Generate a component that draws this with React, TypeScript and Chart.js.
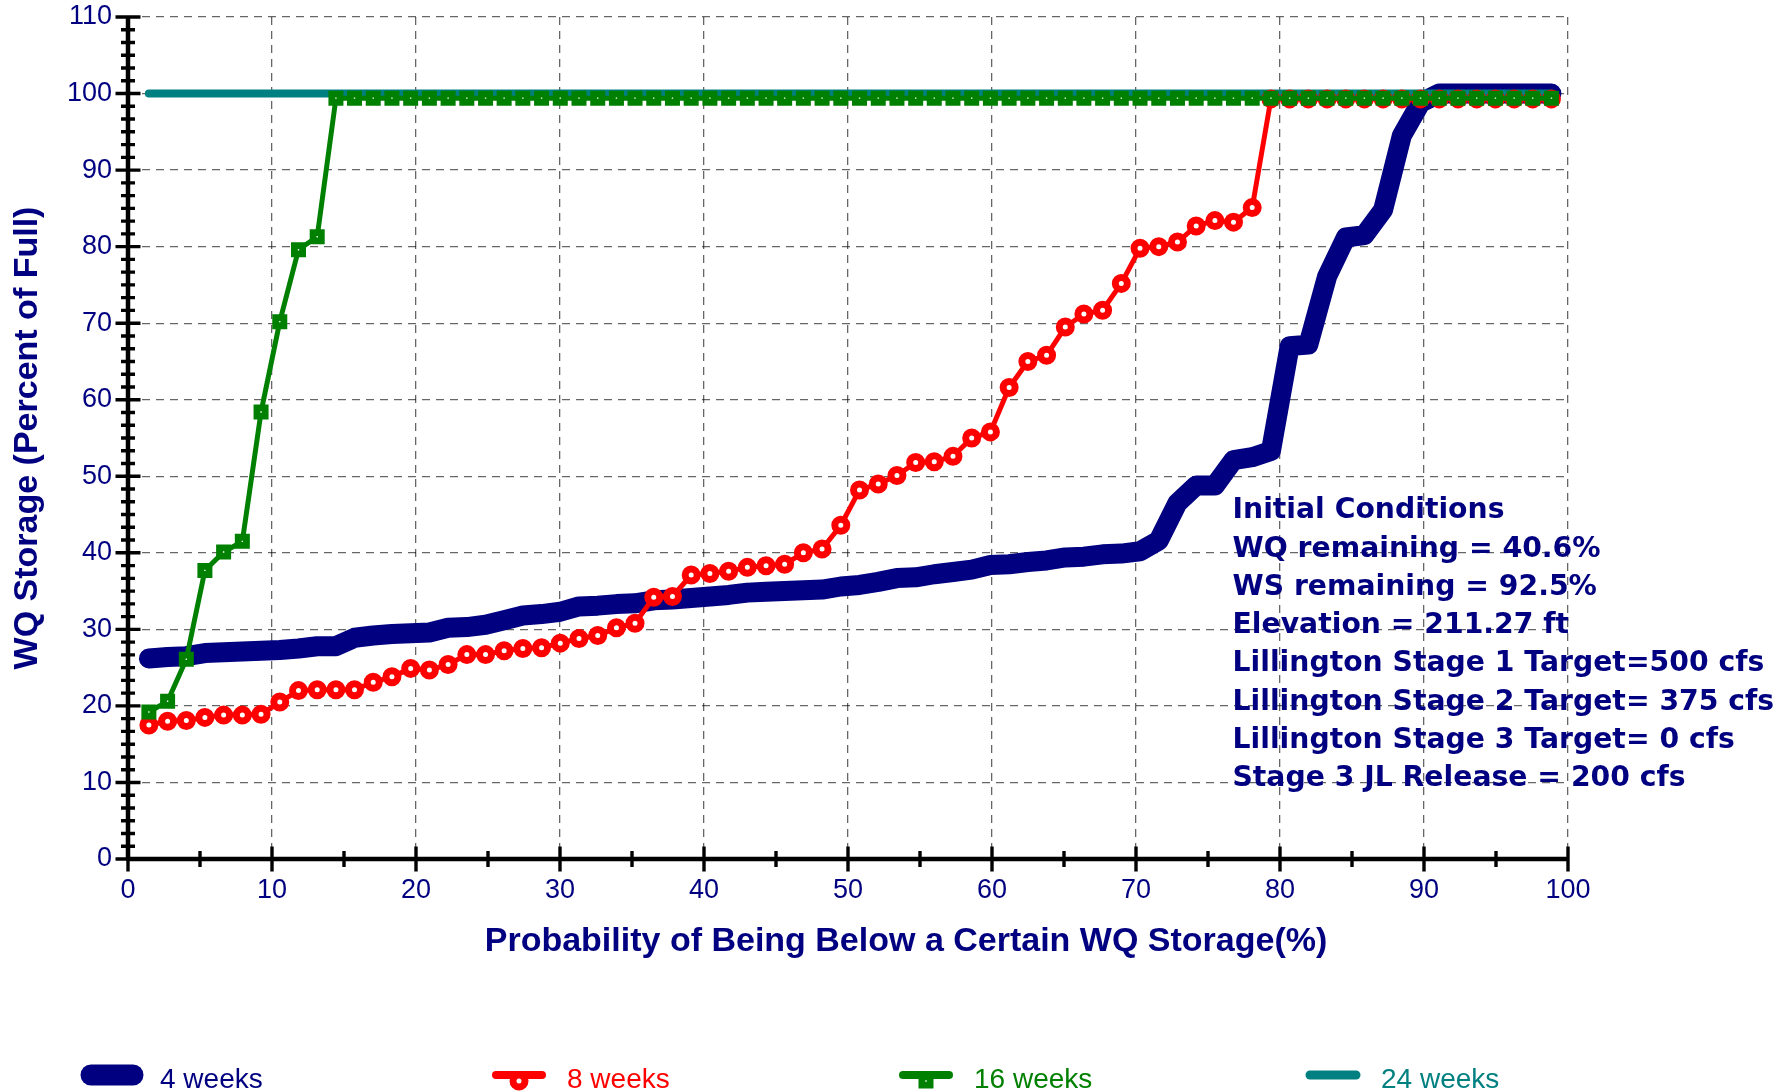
import React, { useEffect, useRef } from "react";
import { Chart, registerables } from "chart.js";

Chart.register(...registerables);

// Probability of being below (plotting positions, %)
const PROB = [
  1.45, 2.75, 4.05, 5.34, 6.64, 7.94, 9.24, 10.54, 11.84, 13.14,
  14.44, 15.73, 17.03, 18.33, 19.63, 20.93, 22.23, 23.53, 24.83, 26.12,
  27.42, 28.72, 30.02, 31.32, 32.62, 33.92, 35.21, 36.51, 37.81, 39.11,
  40.41, 41.71, 43.01, 44.31, 45.6, 46.9, 48.2, 49.5, 50.8, 52.1,
  53.4, 54.7, 55.99, 57.29, 58.59, 59.89, 61.19, 62.49, 63.79, 65.09,
  66.38, 67.68, 68.98, 70.28, 71.58, 72.88, 74.18, 75.48, 76.77, 78.07,
  79.37, 80.67, 81.97, 83.27, 84.57, 85.86, 87.16, 88.46, 89.76, 91.06,
  92.36, 93.66, 94.96, 96.26, 97.55, 98.85,
];

const WEEKS_4 = [
  26.2, 26.4, 26.5, 26.9, 27.0, 27.1, 27.2, 27.3, 27.5, 27.8,
  27.8, 28.9, 29.2, 29.4, 29.5, 29.6, 30.2, 30.3, 30.6, 31.2,
  31.8, 32.0, 32.3, 33.0, 33.1, 33.3, 33.4, 33.8, 33.9, 34.1,
  34.3, 34.5, 34.8, 34.9, 35.0, 35.1, 35.2, 35.6, 35.8, 36.2,
  36.7, 36.8, 37.2, 37.5, 37.8, 38.4, 38.5, 38.8, 39.0, 39.4,
  39.5, 39.8, 39.9, 40.2, 41.6, 46.5, 48.8, 48.8, 52.1, 52.5,
  53.3, 67.0, 67.2, 76.1, 81.2, 81.5, 84.8, 94.5, 98.8, 100,
  100, 100, 100, 100, 100, 100,
];

const WEEKS_8 = [
  17.5, 18.0, 18.1, 18.5, 18.8, 18.8, 18.9, 20.5, 22.0, 22.1,
  22.1, 22.1, 23.1, 23.8, 24.9, 24.7, 25.4, 26.7, 26.7, 27.2,
  27.5, 27.6, 28.2, 28.8, 29.2, 30.2, 30.8, 34.2, 34.3, 37.1,
  37.3, 37.6, 38.1, 38.3, 38.5, 40.0, 40.5, 43.6, 48.2, 49.0,
  50.1, 51.8, 51.9, 52.6, 55.0, 55.8, 61.6, 65.0, 65.8, 69.5,
  71.2, 71.7, 75.2, 79.8, 80.0, 80.6, 82.7, 83.4, 83.2, 85.1,
  99.3, 99.3, 99.3, 99.3, 99.3, 99.3, 99.3, 99.3, 99.3, 99.3,
  99.3, 99.3, 99.3, 99.3, 99.3, 99.3,
];

const WEEKS_16 = [
  19.2, 20.6, 26.1, 37.7, 40.1, 41.5, 58.4, 70.2, 79.6, 81.3,
  99.4, 99.4, 99.4, 99.4, 99.4, 99.4, 99.4, 99.4, 99.4, 99.4,
  99.4, 99.4, 99.4, 99.4, 99.4, 99.4, 99.4, 99.4, 99.4, 99.4,
  99.4, 99.4, 99.4, 99.4, 99.4, 99.4, 99.4, 99.4, 99.4, 99.4,
  99.4, 99.4, 99.4, 99.4, 99.4, 99.4, 99.4, 99.4, 99.4, 99.4,
  99.4, 99.4, 99.4, 99.4, 99.4, 99.4, 99.4, 99.4, 99.4, 99.4,
  99.4, 99.4, 99.4, 99.4, 99.4, 99.4, 99.4, 99.4, 99.4, 99.4,
  99.4, 99.4, 99.4, 99.4, 99.4, 99.4,
];

const WEEKS_24 = [
  100, 100, 100, 100, 100, 100, 100, 100, 100, 100,
  100, 100, 100, 100, 100, 100, 100, 100, 100, 100,
  100, 100, 100, 100, 100, 100, 100, 100, 100, 100,
  100, 100, 100, 100, 100, 100, 100, 100, 100, 100,
  100, 100, 100, 100, 100, 100, 100, 100, 100, 100,
  100, 100, 100, 100, 100, 100, 100, 100, 100, 100,
  100, 100, 100, 100, 100, 100, 100, 100, 100, 100,
  100, 100, 100, 100, 100, 100,
];

const SERIES_NAMES = ["4 weeks", "8 weeks", "16 weeks", "24 weeks"];
const X_TITLE = "Probability of Being Below a Certain WQ Storage(%)";
const Y_TITLE = "WQ Storage (Percent of Full)";
const NOTES = [
  "Initial Conditions",
  "WQ remaining = 40.6%",
  "WS remaining = 92.5%",
  "Elevation = 211.27 ft",
  "Lillington Stage 1 Target=500 cfs",
  "Lillington Stage 2 Target= 375 cfs",
  "Lillington Stage 3 Target= 0 cfs",
  "Stage 3 JL Release = 200 cfs",
];

const NAVY = "#000080";
const RED = "#ff0000";
const GREEN = "#008000";
const TEAL = "#008080";
const SANS = "'Liberation Sans', Arial, Helvetica, sans-serif";

const decorPlugin = {
  id: "decor",
  afterDatasetsDraw(chart: any) {
    const { ctx, chartArea: a, scales } = chart;
    const xs = scales.x;
    const ys = scales.y;
    ctx.save();
    ctx.strokeStyle = "#000";
    ctx.lineCap = "butt";
    ctx.lineWidth = 4.5;
    ctx.beginPath();
    ctx.moveTo(a.left, a.top);
    ctx.lineTo(a.left, a.bottom);
    ctx.moveTo(a.left, a.bottom);
    ctx.lineTo(a.right, a.bottom);
    ctx.stroke();
    ctx.lineWidth = 3.4;
    ctx.beginPath();
    for (let k = 0; k <= 66; k++) {
      const py = ys.getPixelForValue((k * 10) / 6);
      const L = k % 6 === 0 ? 12.5 : 7;
      ctx.moveTo(a.left - L, py);
      ctx.lineTo(a.left + L, py);
    }
    for (let k = 0; k <= 20; k++) {
      const px = xs.getPixelForValue(k * 5);
      const L = k % 2 === 0 ? 12.5 : 8;
      ctx.moveTo(px, a.bottom - L);
      ctx.lineTo(px, a.bottom + L);
    }
    ctx.stroke();
    ctx.restore();
  },
  afterDraw(chart: any) {
    const { ctx, chartArea: a, scales } = chart;
    const xs = scales.x;
    const ys = scales.y;
    ctx.save();
    ctx.fillStyle = NAVY;
    ctx.font = `bold 34px ${SANS}`;
    ctx.textAlign = "center";
    ctx.textBaseline = "middle";
    ctx.save();
    ctx.translate(28, (a.top + a.bottom) / 2);
    ctx.rotate(-Math.PI / 2);
    ctx.fillText(Y_TITLE, 0, 0);
    ctx.restore();
    ctx.fillText(X_TITLE, (a.left + a.right) / 2 + 58, a.bottom + 83);

    ctx.font = `bold 29px 'DejaVu Sans', Verdana, sans-serif`;
    ctx.textAlign = "left";
    ctx.textBaseline = "alphabetic";
    const nx = xs.getPixelForValue(76.7);
    const y0 = ys.getPixelForValue(44.5);
    const step = ys.getPixelForValue(39.5) - y0;
    NOTES.forEach((t, i) => {
      ctx.save();
      ctx.translate(nx, y0 + step * i);
      ctx.scale(0.975, 1);
      ctx.fillText(t, 0, 0);
      ctx.restore();
    });

    const cy = 1075;
    chart.data.datasets.forEach((ds: any, i: number) => {
      const cx = 112 + 407 * i;
      ctx.strokeStyle = ds.borderColor;
      ctx.lineCap = "round";
      ctx.lineWidth = i === 0 ? 21 : i === 3 ? 9 : 8;
      ctx.beginPath();
      ctx.moveTo(cx - (i === 0 ? 21 : 23), cy);
      ctx.lineTo(cx + (i === 0 ? 21 : 23), cy);
      ctx.stroke();
      if (i === 1) {
        ctx.lineWidth = 7;
        ctx.fillStyle = "#fff";
        ctx.beginPath();
        ctx.arc(cx, cy + 6, 6, 0, Math.PI * 2);
        ctx.fill();
        ctx.stroke();
      } else if (i === 2) {
        ctx.lineWidth = 6.8;
        ctx.lineCap = "butt";
        ctx.fillStyle = "#fff";
        ctx.beginPath();
        ctx.rect(cx - 4.1, cy + 6 - 4.1, 8.2, 8.2);
        ctx.fill();
        ctx.stroke();
      }
      ctx.fillStyle = ds.borderColor;
      ctx.font = `28px ${SANS}`;
      ctx.textAlign = "left";
      ctx.textBaseline = "alphabetic";
      ctx.fillText(ds.label, cx + 48, 1088);
    });
    ctx.restore();
  },
};

export default function App() {
  const ref = useRef<HTMLCanvasElement>(null);

  useEffect(() => {
    document.body.style.margin = "0";
    const canvas = ref.current;
    if (!canvas) return;
    const pts = (ys: number[]) => ys.map((y, i) => ({ x: PROB[i], y }));
    const tickFont = { family: SANS, size: 27 };
    const zeroPad = (s: any) => {
      s.paddingTop = 0;
      s.paddingBottom = 0;
      s.paddingLeft = 0;
      s.paddingRight = 0;
    };
    const chart = new Chart(canvas, {
      type: "line",
      data: {
        datasets: [
          {
            label: SERIES_NAMES[0],
            data: pts(WEEKS_4),
            borderColor: NAVY,
            backgroundColor: NAVY,
            borderWidth: 20,
            borderCapStyle: "round",
            borderJoinStyle: "round",
            pointRadius: 0,
            order: 4,
          },
          {
            label: SERIES_NAMES[1],
            data: pts(WEEKS_8),
            borderColor: RED,
            backgroundColor: RED,
            borderWidth: 5,
            pointStyle: "circle",
            pointRadius: 6,
            pointBorderWidth: 7,
            pointBorderColor: RED,
            pointBackgroundColor: "#ffffff",
            order: 2,
          },
          {
            label: SERIES_NAMES[2],
            data: pts(WEEKS_16),
            borderColor: GREEN,
            backgroundColor: GREEN,
            borderWidth: 5,
            pointStyle: "rect",
            pointRadius: 5.8,
            pointBorderWidth: 6.8,
            pointBorderColor: GREEN,
            pointBackgroundColor: "#ffffff",
            order: 1,
          },
          {
            label: SERIES_NAMES[3],
            data: pts(WEEKS_24),
            borderColor: TEAL,
            backgroundColor: TEAL,
            borderWidth: 8,
            borderCapStyle: "round",
            pointRadius: 0,
            order: 3,
          },
        ],
      } as any,
      options: {
        responsive: false,
        animation: false,
        events: [],
        layout: { padding: { top: 17, right: 216, left: 0, bottom: 0 } },
        plugins: {
          legend: { display: false },
          tooltip: { enabled: false },
          title: { display: false },
        },
        scales: {
          x: {
            type: "linear",
            min: 0,
            max: 100,
            ticks: { stepSize: 10, color: NAVY, font: tickFont, padding: 15, maxRotation: 0 },
            grid: { color: "rgba(0,0,0,0.6)", lineWidth: 1.3, drawTicks: false },
            border: { display: false, dash: [8, 6] },
            afterFit: (s: any) => {
              s.height = 233;
              zeroPad(s);
            },
          },
          y: {
            type: "linear",
            min: 0,
            max: 110,
            ticks: { stepSize: 10, color: NAVY, font: tickFont, padding: 16 },
            grid: { color: "rgba(0,0,0,0.6)", lineWidth: 1.3, drawTicks: false },
            border: { display: false, dash: [8, 6] },
            afterFit: (s: any) => {
              s.width = 128;
              zeroPad(s);
            },
          },
        },
      } as any,
      plugins: [decorPlugin],
    });
    return () => chart.destroy();
  }, []);

  return <canvas ref={ref} width={1784} height={1092} style={{ display: "block" }} />;
}
